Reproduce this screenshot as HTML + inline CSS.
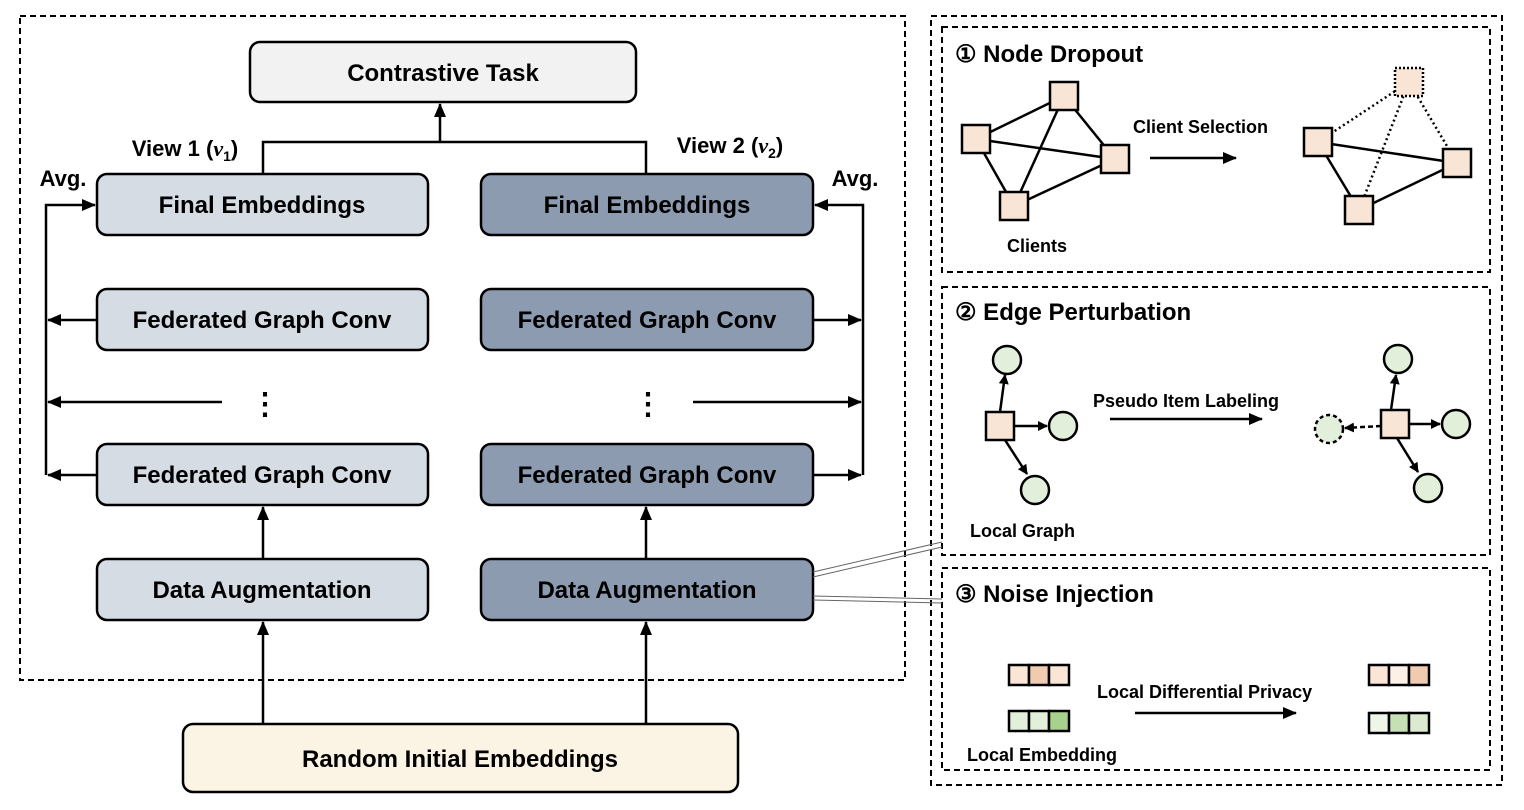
<!DOCTYPE html>
<html><head><meta charset="utf-8"><style>
html,body{margin:0;padding:0;background:#fff;}
svg{display:block;font-family:"Liberation Sans",sans-serif;}
</style></head><body>
<svg width="1524" height="810" viewBox="0 0 1524 810" xmlns="http://www.w3.org/2000/svg">
<defs>
<marker id="a" markerWidth="14" markerHeight="12" refX="13" refY="6" orient="auto" markerUnits="userSpaceOnUse"><path d="M0,0 L14,6 L0,12 z" fill="#000"/></marker>
<marker id="s" markerWidth="10" markerHeight="10" refX="9" refY="5" orient="auto" markerUnits="userSpaceOnUse"><path d="M0,0 L10,5 L0,10 z" fill="#000"/></marker>
</defs>
<g fill="none" stroke="#000" stroke-width="2" stroke-dasharray="6,4">
<rect x="20" y="16" width="885" height="664"/>
<rect x="931" y="16" width="571" height="769"/>
<rect x="942" y="27" width="548" height="245"/>
<rect x="942" y="287" width="548" height="268"/>
<rect x="942" y="568" width="548" height="202"/>
</g>
<g stroke="#000" stroke-width="2.5">
<rect x="250" y="42" width="386" height="60" rx="10" fill="#f2f2f2"/>
<rect x="97" y="174" width="331" height="61" rx="10" fill="#d6dce4"/>
<rect x="481" y="174" width="332" height="61" rx="10" fill="#8c9bb0"/>
<rect x="97" y="289" width="331" height="61" rx="10" fill="#d6dce4"/>
<rect x="481" y="289" width="332" height="61" rx="10" fill="#8c9bb0"/>
<rect x="97" y="444" width="331" height="61" rx="10" fill="#d6dce4"/>
<rect x="481" y="444" width="332" height="61" rx="10" fill="#8c9bb0"/>
<rect x="97" y="559" width="331" height="61" rx="10" fill="#d6dce4"/>
<rect x="481" y="559" width="332" height="61" rx="10" fill="#8c9bb0"/>
<rect x="183" y="724" width="555" height="68" rx="10" fill="#fbf3e4"/>
</g>
<g font-size="24" text-anchor="middle" fill="#000" font-weight="bold">
<text x="443" y="81">Contrastive Task</text>
<text x="262" y="213">Final Embeddings</text>
<text x="647" y="213">Final Embeddings</text>
<text x="262" y="328">Federated Graph Conv</text>
<text x="647" y="328">Federated Graph Conv</text>
<text x="262" y="483">Federated Graph Conv</text>
<text x="647" y="483">Federated Graph Conv</text>
<text x="262" y="598">Data Augmentation</text>
<text x="647" y="598">Data Augmentation</text>
<text x="460" y="767">Random Initial Embeddings</text>
<text x="63" y="186" font-size="22">Avg.</text>
<text x="855" y="186" font-size="22">Avg.</text>
<text x="185" y="156" font-size="22">View 1 (<tspan font-style="italic" font-family="Liberation Serif">v</tspan><tspan font-size="14" dy="5">1</tspan><tspan dy="-5">)</tspan></text>
<text x="730" y="153" font-size="22">View 2 (<tspan font-style="italic" font-family="Liberation Serif">v</tspan><tspan font-size="14" dy="5">2</tspan><tspan dy="-5">)</tspan></text>
<text x="265" y="414" font-size="30">⋮</text>
<text x="648" y="414" font-size="30">⋮</text>
</g>
<g stroke="#000" stroke-width="2.5" fill="none">
<polyline points="263,174 263,142 646,142 646,174"/>
<line x1="440" y1="142" x2="440" y2="104" marker-end="url(#a)"/>
<polyline points="46,475 46,205 95,205" marker-end="url(#a)"/>
<line x1="97" y1="320" x2="48" y2="320" marker-end="url(#a)"/>
<line x1="222" y1="402" x2="48" y2="402" marker-end="url(#a)"/>
<line x1="97" y1="475" x2="48" y2="475" marker-end="url(#a)"/>
<polyline points="863,475 863,205 815,205" marker-end="url(#a)"/>
<line x1="813" y1="320" x2="861" y2="320" marker-end="url(#a)"/>
<line x1="693" y1="402" x2="861" y2="402" marker-end="url(#a)"/>
<line x1="813" y1="475" x2="861" y2="475" marker-end="url(#a)"/>
<line x1="263" y1="559" x2="263" y2="507" marker-end="url(#a)"/>
<line x1="646" y1="559" x2="646" y2="507" marker-end="url(#a)"/>
<line x1="263" y1="724" x2="263" y2="622" marker-end="url(#a)"/>
<line x1="646" y1="724" x2="646" y2="622" marker-end="url(#a)"/>
</g>
<g stroke="#666" stroke-width="1" fill="none">
<line x1="813" y1="572" x2="942" y2="542"/><line x1="813" y1="577" x2="942" y2="547"/>
<line x1="813" y1="596" x2="942" y2="599"/><line x1="813" y1="600" x2="942" y2="603"/>
</g>
<g font-weight="bold" fill="#000" font-size="24">
<text x="955" y="62">① Node Dropout</text>
<text x="955" y="320">② Edge Perturbation</text>
<text x="955" y="602">③ Noise Injection</text>
</g>
<g font-weight="bold" fill="#000" font-size="18">
<text x="1133" y="133">Client Selection</text>
<text x="1007" y="252">Clients</text>
<text x="1093" y="407">Pseudo Item Labeling</text>
<text x="970" y="537">Local Graph</text>
<text x="1097" y="698">Local Differential Privacy</text>
<text x="967" y="761">Local Embedding</text>
</g>
<g stroke="#000" stroke-width="2.5" fill="none">
<line x1="976" y1="139" x2="1064" y2="96"/><line x1="976" y1="139" x2="1115" y2="159"/><line x1="976" y1="139" x2="1014" y2="206"/>
<line x1="1064" y1="96" x2="1115" y2="159"/><line x1="1064" y1="96" x2="1014" y2="206"/><line x1="1115" y1="159" x2="1014" y2="206"/>
<line x1="1318" y1="142" x2="1457" y2="163"/><line x1="1318" y1="142" x2="1359" y2="210"/><line x1="1359" y1="210" x2="1457" y2="163"/>
<line x1="1150" y1="158" x2="1236" y2="158" marker-end="url(#a)"/>
</g>
<g stroke="#000" stroke-width="2.5" stroke-dasharray="2,3" fill="none">
<line x1="1318" y1="142" x2="1409" y2="82"/><line x1="1359" y1="210" x2="1409" y2="82"/><line x1="1457" y1="163" x2="1409" y2="82"/>
</g>
<g stroke="#000" stroke-width="2.5" fill="#f8e5d6">
<rect x="962" y="125" width="28" height="28"/><rect x="1050" y="82" width="28" height="28"/>
<rect x="1101" y="145" width="28" height="28"/><rect x="1000" y="192" width="28" height="28"/>
<rect x="1304" y="128" width="28" height="28"/><rect x="1443" y="149" width="28" height="28"/><rect x="1345" y="196" width="28" height="28"/>
<rect x="1395" y="68" width="28" height="28" stroke-dasharray="2,2"/>
</g>
<g stroke="#000" stroke-width="2.5" fill="none">
<line x1="1000" y1="412" x2="1005" y2="375" marker-end="url(#s)"/>
<line x1="1014" y1="426" x2="1047" y2="426" marker-end="url(#s)"/>
<line x1="1005" y1="440" x2="1027" y2="474" marker-end="url(#s)"/>
<line x1="1110" y1="419" x2="1262" y2="419" marker-end="url(#a)"/>
<line x1="1391" y1="410" x2="1396" y2="375" marker-end="url(#s)"/>
<line x1="1409" y1="424" x2="1440" y2="424" marker-end="url(#s)"/>
<line x1="1397" y1="438" x2="1418" y2="472" marker-end="url(#s)"/>
<line x1="1381" y1="426" x2="1345" y2="428" stroke-dasharray="5,3" marker-end="url(#s)"/>
</g>
<g stroke="#000" stroke-width="2.5" fill="#e2efda">
<circle cx="1007" cy="360" r="14"/><circle cx="1063" cy="426" r="14"/><circle cx="1035" cy="490" r="14"/>
<circle cx="1398" cy="359" r="14"/><circle cx="1456" cy="424" r="14"/><circle cx="1428" cy="488" r="14"/>
<circle cx="1329" cy="429" r="14" stroke-dasharray="4,3"/>
</g>
<g stroke="#000" stroke-width="2.5" fill="#f8e5d6">
<rect x="986" y="412" width="28" height="28"/><rect x="1381" y="410" width="28" height="28"/>
</g>
<g stroke="#000" stroke-width="2.5">
<rect x="1009" y="665" width="20" height="20" fill="#fbe5d6"/><rect x="1029" y="665" width="20" height="20" fill="#f0cbb0"/><rect x="1049" y="665" width="20" height="20" fill="#fbe5d6"/>
<rect x="1009" y="711" width="20" height="20" fill="#e2efda"/><rect x="1029" y="711" width="20" height="20" fill="#e2efda"/><rect x="1049" y="711" width="20" height="20" fill="#a9d18e"/>
<rect x="1369" y="665" width="20" height="20" fill="#fbe5d6"/><rect x="1389" y="665" width="20" height="20" fill="#fdf0e7"/><rect x="1409" y="665" width="20" height="20" fill="#f0cbb0"/>
<rect x="1369" y="713" width="20" height="20" fill="#eef6e8"/><rect x="1389" y="713" width="20" height="20" fill="#c5e0b4"/><rect x="1409" y="713" width="20" height="20" fill="#dcebd0"/>
</g>
<line x1="1135" y1="713" x2="1296" y2="713" stroke="#000" stroke-width="2.5" marker-end="url(#a)"/>
</svg>
</body></html>
